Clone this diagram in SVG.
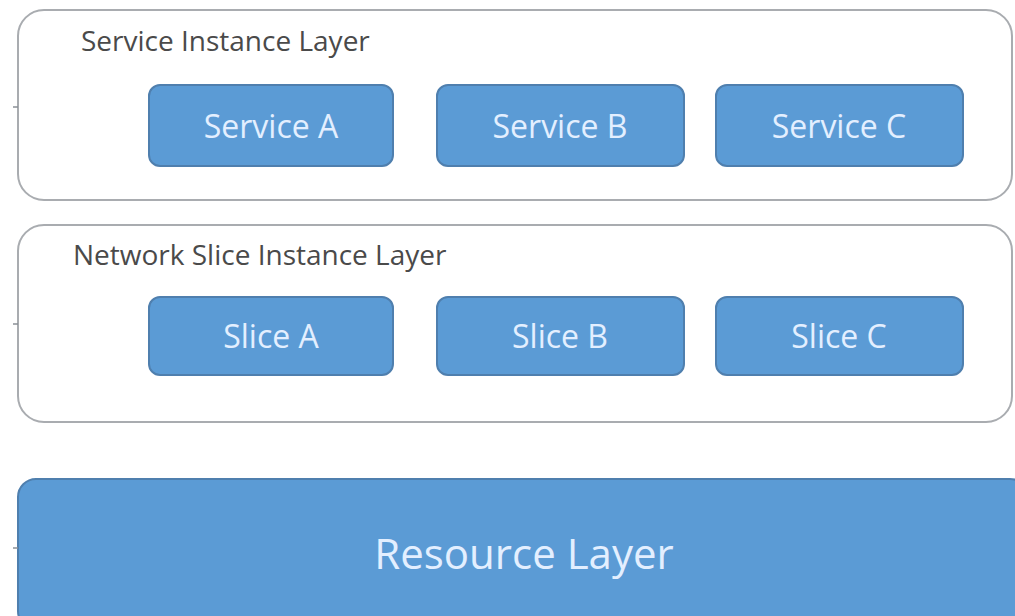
<svg xmlns="http://www.w3.org/2000/svg" width="1015" height="616" viewBox="0 0 1015 616">
<style>
.layer{fill:#ffffff;stroke:#a9acb0;stroke-width:2}
.node{fill:#5b9bd5;stroke:#4f7fae;stroke-width:2}
.lbl{font-family:"Open Sans","Liberation Sans",sans-serif;font-size:28px;fill:#4a4a4a}
.nt{font-family:"Open Sans","Liberation Sans",sans-serif;font-size:32px;fill:#e3efff;text-anchor:middle}
.big{font-family:"Open Sans","Liberation Sans",sans-serif;font-size:42px;fill:#e3efff;text-anchor:middle}
.tick{stroke:#8a8f96;stroke-width:1.5}
</style>
<rect width="1015" height="616" fill="#ffffff"/>
<g id="service-layer">
<rect class="layer" x="18" y="10" width="994" height="190" rx="26"/>
<text class="lbl" x="81" y="51">Service Instance Layer</text>
</g>
<g id="service-a"><rect class="node" x="149" y="85" width="244" height="81" rx="11"/><text class="nt" x="271" y="138">Service  A</text></g>
<g id="service-b"><rect class="node" x="437" y="85" width="247" height="81" rx="11"/><text class="nt" x="560" y="138">Service B</text></g>
<g id="service-c"><rect class="node" x="716" y="85" width="247" height="81" rx="11"/><text class="nt" x="839" y="138">Service C</text></g>
<g id="slice-layer">
<rect class="layer" x="18" y="225" width="994" height="197" rx="26"/>
<text class="lbl" x="73" y="265">Network Slice Instance Layer</text>
</g>
<g id="slice-a"><rect class="node" x="149" y="297" width="244" height="78" rx="11"/><text class="nt" x="271" y="348">Slice A</text></g>
<g id="slice-b"><rect class="node" x="437" y="297" width="247" height="78" rx="11"/><text class="nt" x="560" y="348">Slice B</text></g>
<g id="slice-c"><rect class="node" x="716" y="297" width="247" height="78" rx="11"/><text class="nt" x="839" y="348">Slice C</text></g>
<g id="resource-layer">
<rect class="node" x="18" y="479" width="1010" height="150" rx="18"/>
<text class="big" x="524" y="569">Resource Layer</text>
</g>
<g id="connectors">
<line class="tick" x1="13" y1="107" x2="18" y2="107"/>
<line class="tick" x1="13" y1="324" x2="18" y2="324"/>
<line class="tick" x1="13" y1="548" x2="18" y2="548"/>
</g>
</svg>
